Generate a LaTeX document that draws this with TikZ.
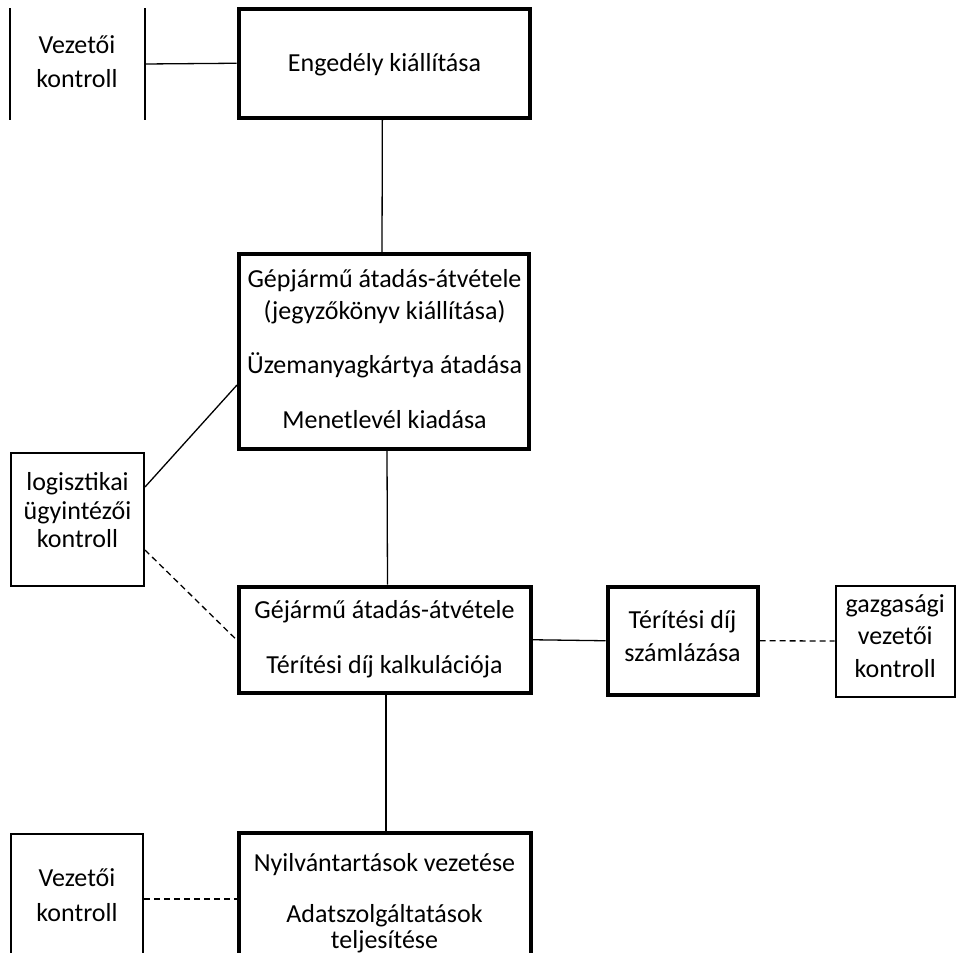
\documentclass[tikz,border=0pt]{standalone}
\usepackage{fontspec}
\setmainfont{Carlito}
\begin{document}
\begin{tikzpicture}[x=1pt,y=-1pt,
  thickbox/.style={draw=black, line width=4pt, inner sep=0pt, fill=white},
  thinbox/.style={draw=black, line width=2pt, inner sep=0pt, fill=white},
  ghost/.style={inner sep=0pt, outer sep=0pt},
  sideline/.style={line width=2pt},
  conn/.style={line width=1.3pt},
  dconn/.style={line width=1.3pt, dash pattern=on 6pt off 4pt},
  txt/.style={anchor=base, inner sep=0pt, font=\fontsize{26}{31}\selectfont}]
\useasboundingbox (0,0) rectangle (959,953);
\clip (0,0) rectangle (959,953);

% boxes
\node[ghost, minimum width=134.8pt, minimum height=112pt] (vk1) at (77.1,64) {};
\node[thickbox, minimum width=291.3pt, minimum height=108.5pt] (b1) at (384.35,63.25) {};
\node[thickbox, minimum width=290pt, minimum height=195pt] (b2) at (384,351.5) {};
\node[thickbox, minimum width=292pt, minimum height=106.5pt] (b3) at (384.5,639.75) {};
\node[thickbox, minimum width=292pt, minimum height=132pt] (b4) at (384.5,899) {};
\node[thickbox, minimum width=150pt, minimum height=108.5pt] (tb) at (682.5,640.75) {};
\node[thinbox, minimum width=119.5pt, minimum height=111pt] (gz) at (895.25,641) {};
\node[thinbox, minimum width=133pt, minimum height=133pt] (lg) at (77.5,519) {};
\node[thinbox, minimum width=132pt, minimum height=130pt] (vk2) at (77,899) {};

% side lines of the top-left box
\draw[sideline] (vk1.north west) -- (vk1.south west);
\draw[sideline] (vk1.north east) -- (vk1.south east);

% connectors
\draw[conn] ([xshift=-2pt]b1.south) -- ([xshift=-2pt]b2.north);
\draw[conn] ([xshift=3pt]b2.south) -- ([xshift=3pt]b3.north);
\draw[conn] ([xshift=1.5pt]b3.south) -- ([xshift=1.5pt]b4.north);
\draw[conn] (vk1.east) -- (b1.west);
\draw[conn] ([yshift=32pt]lg.east) -- ([yshift=-33.5pt]b2.west);
\draw[dconn] ([yshift=-31pt]lg.east) -- (b3.west);
\draw[conn] (b3.east) -- (tb.west);
\draw[dconn] (tb.east) -- (gz.west);
\draw[dconn] (vk2.east) -- (b4.west);

% texts
\node[txt] (t1a) at (77,53) {Vezetői};
\node[txt] (t1b) at (77,87) {kontroll};
\node[txt] (t2) at (384.5,71) {Engedély kiállítása};
\node[txt] (t3a) at (384.5,287) {Gépjármű átadás-átvétele};
\node[txt] (t3b) at (384.5,319.5) {(jegyzőkönyv kiállítása)};
\node[txt] (t3c) at (384.5,373.5) {Üzemanyagkártya átadása};
\node[txt] (t3d) at (384.5,428.5) {Menetlevél kiadása};
\node[txt] (t4a) at (77.5,490.5) {logisztikai};
\node[txt] (t4b) at (77.5,519.5) {ügyintézői};
\node[txt] (t4c) at (77.5,547.5) {kontroll};
\node[txt] (t5a) at (384.5,618.5) {Géjármű átadás-átvétele};
\node[txt] (t5b) at (384.5,673.5) {Térítési díj kalkulációja};
\node[txt] (t6a) at (682.5,628.5) {Térítési díj};
\node[txt] (t6b) at (682.5,661.5) {számlázása};
\node[txt] (t7a) at (895.25,612) {gazgasági};
\node[txt] (t7b) at (895.25,644.5) {vezetői};
\node[txt] (t7c) at (895.25,677) {kontroll};
\node[txt] (t8a) at (77,886) {Vezetői};
\node[txt] (t8b) at (77,921) {kontroll};
\node[txt] (t9a) at (384.5,871.5) {Nyilvántartások vezetése};
\node[txt] (t9b) at (384.5,922) {Adatszolgáltatások};
\node[txt] (t9c) at (384.5,948) {teljesítése};
\end{tikzpicture}
\end{document}
